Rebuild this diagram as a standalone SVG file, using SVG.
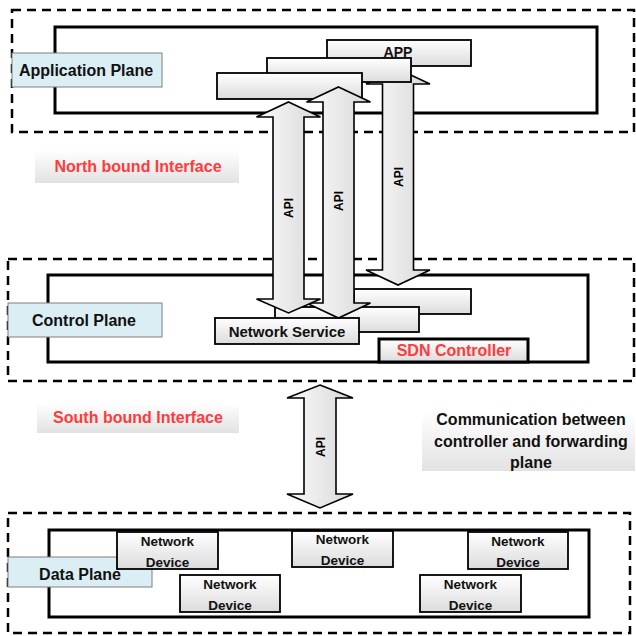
<svg xmlns="http://www.w3.org/2000/svg" width="636" height="636" viewBox="0 0 636 636">
  <defs>
    <linearGradient id="boxFill" x1="0" y1="0" x2="0" y2="1">
      <stop offset="0" stop-color="#ffffff"/>
      <stop offset="1" stop-color="#dcdcdc"/>
    </linearGradient>
    <linearGradient id="arrowFill" x1="0" y1="0" x2="1" y2="0">
      <stop offset="0" stop-color="#fbfbfb"/>
      <stop offset="1" stop-color="#d8d8d8"/>
    </linearGradient>
    <linearGradient id="noteFill" x1="0" y1="0" x2="0" y2="1">
      <stop offset="0" stop-color="#ffffff"/>
      <stop offset="1" stop-color="#e2e2e2"/>
    </linearGradient>
    <style>
      .plane { fill: none; stroke: #000; stroke-width: 2.5; stroke-dasharray: 9 6; }
      .inner { fill: none; stroke: #000; stroke-width: 3; }
      .label rect { fill: #dbeef4; stroke: #7f7f7f; stroke-width: 1; }
      .label text { font-family: "Liberation Sans", Arial, sans-serif; font-weight: bold; font-size: 16px; fill: #111; text-anchor: middle; }
      .box { fill: url(#boxFill); stroke: #000; stroke-width: 1.8; }
      .arrow { fill: url(#arrowFill); stroke: #000; stroke-width: 1.6; stroke-linejoin: miter; }
      .api { font-family: "Liberation Sans", Arial, sans-serif; font-weight: bold; font-size: 12px; fill: #000; text-anchor: middle; }
      .note rect { fill: url(#noteFill); }
      .red { font-family: "Liberation Sans", Arial, sans-serif; font-weight: bold; font-size: 16px; fill: #ff3b3b; text-anchor: middle; }
      .txt { font-family: "Liberation Sans", Arial, sans-serif; font-weight: bold; fill: #111; text-anchor: middle; }
      .dev text { font-size: 13.5px; }
    </style>
  </defs>

  <!-- Application plane -->
  <g id="application-plane">
    <rect class="plane" x="12" y="10" width="622" height="122"/>
    <rect class="inner" x="55" y="27" width="542" height="86"/>
  </g>
  <g id="application-plane-label" class="label">
    <rect x="12" y="53" width="150" height="34"/>
    <text x="86" y="76">Application Plane</text>
  </g>

  <!-- Control plane -->
  <g id="control-plane">
    <rect class="plane" x="8" y="259" width="626" height="122"/>
    <rect class="inner" x="48" y="275" width="540" height="87"/>
  </g>
  <g id="control-plane-label" class="label">
    <rect x="8" y="303" width="154" height="34"/>
    <text x="84" y="326">Control Plane</text>
  </g>
  <g id="service-back"><rect class="box" x="354" y="289" width="117" height="25"/></g>
  <g id="service-mid"><rect class="box" x="275" y="307" width="144" height="25"/></g>
  <g id="network-service">
    <rect class="box" x="215" y="318" width="144" height="26"/>
    <text class="txt" x="287" y="337" font-size="15">Network Service</text>
  </g>
  <g id="sdn-controller">
    <rect x="379" y="339" width="149" height="23" fill="url(#boxFill)" stroke="#000" stroke-width="3"/>
    <text class="red" x="454" y="356" font-size="14.5">SDN Controller</text>
  </g>

  <!-- Data plane -->
  <g id="data-plane">
    <rect class="plane" x="8" y="513" width="622" height="120"/>
    <rect class="inner" x="49" y="530" width="540" height="87"/>
  </g>
  <g id="data-plane-label" class="label">
    <rect x="8" y="557" width="144" height="30"/>
    <text x="80" y="580" font-size="16.5">Data Plane</text>
  </g>
  <g id="device-1" class="dev">
    <rect class="box" x="117" y="532" width="101" height="37"/>
    <text class="txt" x="167.5" y="546">Network</text>
    <text class="txt" x="167.5" y="567">Device</text>
  </g>
  <g id="device-2" class="dev">
    <rect class="box" x="180" y="575" width="100" height="37"/>
    <text class="txt" x="230" y="589">Network</text>
    <text class="txt" x="230" y="610">Device</text>
  </g>
  <g id="device-3" class="dev">
    <rect class="box" x="292" y="531" width="101" height="36"/>
    <text class="txt" x="342.5" y="544">Network</text>
    <text class="txt" x="342.5" y="565">Device</text>
  </g>
  <g id="device-4" class="dev">
    <rect class="box" x="468" y="532" width="100" height="37"/>
    <text class="txt" x="518" y="546">Network</text>
    <text class="txt" x="518" y="567">Device</text>
  </g>
  <g id="device-5" class="dev">
    <rect class="box" x="420" y="575" width="101" height="37"/>
    <text class="txt" x="470.5" y="589">Network</text>
    <text class="txt" x="470.5" y="610">Device</text>
  </g>

  <!-- Interface notes -->
  <g id="northbound" class="note">
    <rect x="35" y="150" width="204" height="33"/>
    <text class="red" x="138" y="172">North bound Interface</text>
  </g>
  <g id="southbound" class="note">
    <rect x="37" y="403" width="202" height="30"/>
    <text class="red" x="138" y="423">South bound Interface</text>
  </g>
  <g id="communication" class="note">
    <rect x="422" y="412" width="213" height="59"/>
    <text class="txt" x="531" y="425" font-size="16">Communication between</text>
    <text class="txt" x="531" y="447" font-size="16">controller and forwarding</text>
    <text class="txt" x="531" y="468" font-size="16">plane</text>
  </g>

  <!-- Applications stack and API connectors -->
  <g id="app-back">
    <rect class="box" x="327" y="40" width="144" height="26"/>
    <text class="txt" x="398" y="57" font-size="14">APP</text>
  </g>
  <g id="connectors">
    <g id="api-3">
      <polygon class="arrow" points="398,69 430,84 413.5,84 413.5,270 430,270 398,285 366,270 382.5,270 382.5,84 366,84"/>
      <text class="api" transform="translate(402.5,177) rotate(-90)">API</text>
    </g>
  </g>
  <g id="app-mid"><rect class="box" x="267" y="58" width="144" height="24"/></g>
  <g id="app-front"><rect class="box" x="217" y="73" width="145" height="26"/></g>
  <g id="connectors-front">
    <g id="api-2">
      <polygon class="arrow" points="338.5,87 370.5,102 354,102 354,303 370.5,303 338.5,318 306.5,303 323,303 323,102 306.5,102"/>
      <text class="api" transform="translate(343,201) rotate(-90)">API</text>
    </g>
    <g id="api-1">
      <polygon class="arrow" points="288.5,102 320.5,117 304,117 304,299 320.5,299 288.5,313 256.5,299 273,299 273,117 256.5,117"/>
      <text class="api" transform="translate(293,208) rotate(-90)">API</text>
    </g>
    <g id="api-south">
      <polygon class="arrow" points="320,385 353,398 336,398 336,494 353,494 320,508 287,494 304,494 304,398 287,398"/>
      <text class="api" transform="translate(324.5,447) rotate(-90)">API</text>
    </g>
  </g>
</svg>
